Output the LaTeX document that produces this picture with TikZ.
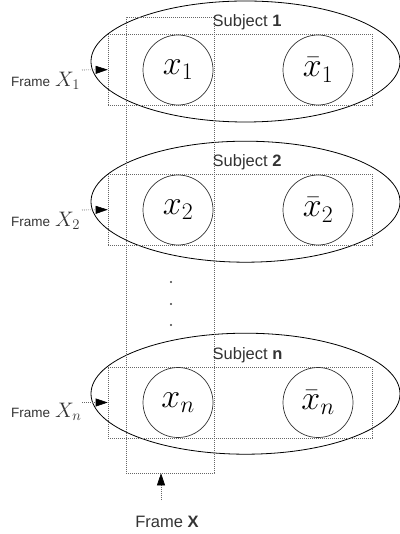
\RequirePackage{fix-cm}
\documentclass[tikz,border=0pt]{standalone}
\usepackage{fontspec}
\newfontfamily\lsans{Liberation Sans}
\usetikzlibrary{shapes.geometric,arrows.meta}
\begin{document}
\begin{tikzpicture}[x=1pt,y=-1pt,
  frm/.style={draw=black!60, line width=0.6pt, dash pattern=on 0.8pt off 1.2pt},
  subj/.style={ellipse, draw=black, line width=0.8pt, minimum width=309pt, minimum height=121pt, inner sep=0pt},
  row/.style={frm, minimum width=264pt, minimum height=70.7pt, inner sep=0pt},
  var/.style={circle, draw=black!80, line width=0.7pt, minimum size=70pt, inner sep=0pt, font=\fontsize{34}{38}\selectfont},
  lbl/.style={font=\lsans\fontsize{16.5}{18}\selectfont, text=black!80, inner sep=0pt},
  side/.style={font=\lsans\fontsize{13.5}{15}\selectfont, text=black!80, inner sep=0pt},
  arr/.style={frm, -{Triangle[length=12pt,width=8pt,color=black]}},
  dot/.style={circle, fill=black!75, minimum size=2.2pt, inner sep=0pt}]
\useasboundingbox (0,0) rectangle (399,534);
% subjects
\node[subj] (s1) at (245.5,61.5) {};
\node[subj] (s2) at (245.5,201.7) {};
\node[subj] (sn) at (245.5,393.7) {};
% frame X
\node[frm, minimum width=88pt, minimum height=456pt, inner sep=0pt] (FX) at (170,245) {};
% row frames
\node[row] (r1) at (240,69.7) {};
\node[row] (r2) at (240,209.7) {};
\node[row] (rn) at (240,402.5) {};
% variables
\node[var] (x1) at (178,70) {$x_1$};
\node[var] (y1) at (318,70) {$\bar{x}_1$};
\node[var] (x2) at (178,210) {$x_2$};
\node[var] (y2) at (318,210) {$\bar{x}_2$};
\node[var] (xn) at (178,402.5) {$x_n$};
\node[var] (yn) at (318,402.5) {$\bar{x}_n$};
% subject labels
\node[lbl, anchor=west] (t1) at (212.5,22) {Subject \textbf{1}};
\node[lbl, anchor=west] (t2) at (212.5,162) {Subject \textbf{2}};
\node[lbl, anchor=west] (tn) at (212.5,355) {Subject \textbf{n}};
% side frame labels
\node[side, anchor=base west] (f1) at (11,86.5) {Frame\hspace{5pt}{\fontsize{21}{24}\selectfont$X_1$}};
\node[side, anchor=base west] (f2) at (11,226.5) {Frame\hspace{5pt}{\fontsize{21}{24}\selectfont$X_2$}};
\node[side, anchor=base west] (fn) at (11,417.5) {Frame\hspace{5pt}{\fontsize{21}{24}\selectfont$X_n$}};
\coordinate (a1) at (82,70);
\coordinate (a2) at (82,210);
\coordinate (an) at (82,402.5);
\draw[arr] (a1) -- (r1.west);
\draw[arr] (a2) -- (r2.west);
\draw[arr] (an) -- (rn.west);
% dots
\node[dot] (d1) at (171,282) {};
\node[dot] (d2) at (171,304) {};
\node[dot] (d3) at (171,325) {};
% bottom label
\node[lbl, anchor=base] (fb) at (167,527) {Frame \textbf{X}};
\coordinate (b) at (161,500);
\draw[arr] (b) -- (b |- FX.south);
\end{tikzpicture}
\end{document}
